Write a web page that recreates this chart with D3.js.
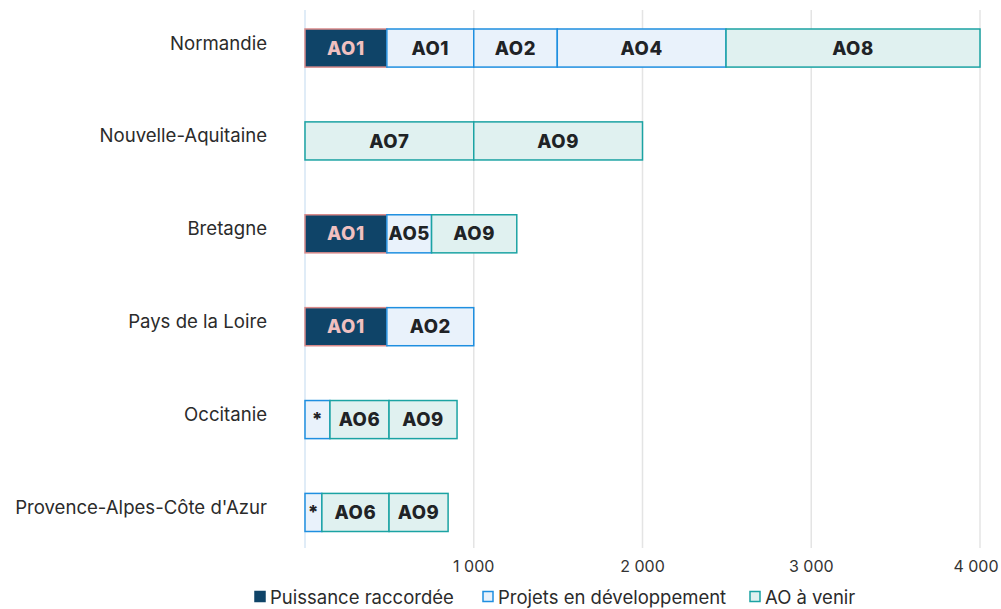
<!DOCTYPE html>
<html lang="fr">
<head>
<meta charset="UTF-8">
<title>Puissance éolien en mer par région</title>
<script src="https://cdn.jsdelivr.net/npm/d3@7"></script>
<style>
  body { margin: 0; background: #fff; font-family: Inter, "Noto Sans", sans-serif; }
</style>
</head>
<body>
<svg id="chart" width="1001" height="609"></svg>
<script>
// regions, top to bottom
const regions = ["Normandie", "Nouvelle-Aquitaine", "Bretagne", "Pays de la Loire", "Occitanie", "Provence-Alpes-Côte d'Azur"];
const seriesNames = ["Puissance raccordée", "Projets en développement", "AO à venir"];

// segments, in stacking order (MW)
const segRegion = ["Normandie", "Normandie", "Normandie", "Normandie", "Normandie",
  "Nouvelle-Aquitaine", "Nouvelle-Aquitaine",
  "Bretagne", "Bretagne", "Bretagne",
  "Pays de la Loire", "Pays de la Loire",
  "Occitanie", "Occitanie", "Occitanie",
  "Provence-Alpes-Côte d'Azur", "Provence-Alpes-Côte d'Azur", "Provence-Alpes-Côte d'Azur"];
const segSeries = [0, 1, 1, 1, 2,  2, 2,  0, 1, 2,  0, 1,  1, 2, 2,  1, 2, 2];
const segLabel = ["AO1", "AO1", "AO2", "AO4", "AO8",
  "AO7", "AO9",
  "AO1", "AO5", "AO9",
  "AO1", "AO2",
  "*", "AO6", "AO9",
  "*", "AO6", "AO9"];
const segValue = [485, 515, 495, 1000, 1505,
  1000, 1000,
  485, 265, 505,
  485, 515,
  148, 350, 403,
  100, 398, 350];

const xTicks = [1000, 2000, 3000, 4000];

const fills = ["#0f4468", "#e9f2fb", "#e0f1f0"];
const strokes = ["#d98a8a", "#1f8fe0", "#1ba3a3"];
const textCols = ["#f0c0c0", "#1f2326", "#1f2326"];

const svg = d3.select('#chart');

const x = d3.scaleLinear()
  .domain([0, 4000])
  .range([305, 980]);

const y = d3.scaleBand()
  .domain(regions)
  .range([29, 531.5])
  .paddingInner(0.59)
  .paddingOuter(0);

// grid
svg.append('g')
  .selectAll('line')
  .data([0].concat(xTicks))
  .enter()
  .append('line')
  .attr('x1', (d) => x(d))
  .attr('x2', (d) => x(d))
  .attr('y1', 10)
  .attr('y2', 548)
  .attr('stroke', (d) => d === 0 ? '#d6e6f4' : '#e4e4e4')
  .attr('stroke-width', 1.5)

// tick labels
svg.append('g')
  .selectAll('text')
  .data(xTicks)
  .enter()
  .append('text')
  .attr('x', (d) => Math.min(x(d), 976))
  .attr('y', 566)
  .attr('dy', '0.35em')
  .attr('text-anchor', 'middle')
  .attr('font-size', 16)
  .attr('fill', '#333')
  .text((d) => d3.format(',')(d).replace(/,/g, ' '))

// category labels
svg.append('g')
  .selectAll('text')
  .data(regions)
  .enter()
  .append('text')
  .attr('x', 267)
  .attr('y', (d) => y(d) + y.bandwidth() / 2 - 5)
  .attr('dy', '0.35em')
  .attr('text-anchor', 'end')
  .attr('font-size', 18.6)
  .attr('fill', '#2b2b2b')
  .text((d) => d)

// stack segments
const segs = [];
const acc = {};
segValue.forEach((v, i) => {
  const r = segRegion[i];
  const start = acc[r] || 0;
  acc[r] = start + v;
  segs.push({ region: r, series: segSeries[i], label: segLabel[i], x0: start, x1: start + v });
});

const bars = svg.append('g')
  .selectAll('g')
  .data(segs)
  .enter()
  .append('g')

bars.append('rect')
  .attr('x', (d) => x(d.x0))
  .attr('y', (d) => y(d.region))
  .attr('width', (d) => x(d.x1) - x(d.x0))
  .attr('height', y.bandwidth())
  .attr('fill', (d) => fills[d.series])
  .attr('stroke', (d) => strokes[d.series])
  .attr('stroke-width', 1.5)

bars.append('text')
  .attr('x', (d) => (x(d.x0) + x(d.x1)) / 2)
  .attr('y', (d) => y(d.region) + y.bandwidth() / 2)
  .attr('dy', '0.36em')
  .attr('text-anchor', 'middle')
  .attr('font-size', 18.5)
  .attr('font-weight', 800)
  .attr('letter-spacing', 0.6)
  .attr('fill', (d) => textCols[d.series])
  .text((d) => d.label)

// legend
const legendX = [254, 482, 749];
const legend = svg.append('g')
  .selectAll('g')
  .data(seriesNames)
  .enter()
  .append('g')
  .attr('transform', (d, i) => `translate(${legendX[i]}, 591)`)

legend.append('rect')
  .attr('x', 1)
  .attr('y', 0.5)
  .attr('width', 10)
  .attr('height', 10)
  .attr('fill', (d, i) => fills[i])
  .attr('stroke', (d, i) => i === 0 ? fills[0] : strokes[i])
  .attr('stroke-width', 1.5)

legend.append('text')
  .attr('x', 16)
  .attr('y', 6)
  .attr('dy', '0.36em')
  .attr('font-size', 18.5)
  .attr('fill', '#2b2b2b')
  .text((d) => d)
</script>
</body>
</html>
